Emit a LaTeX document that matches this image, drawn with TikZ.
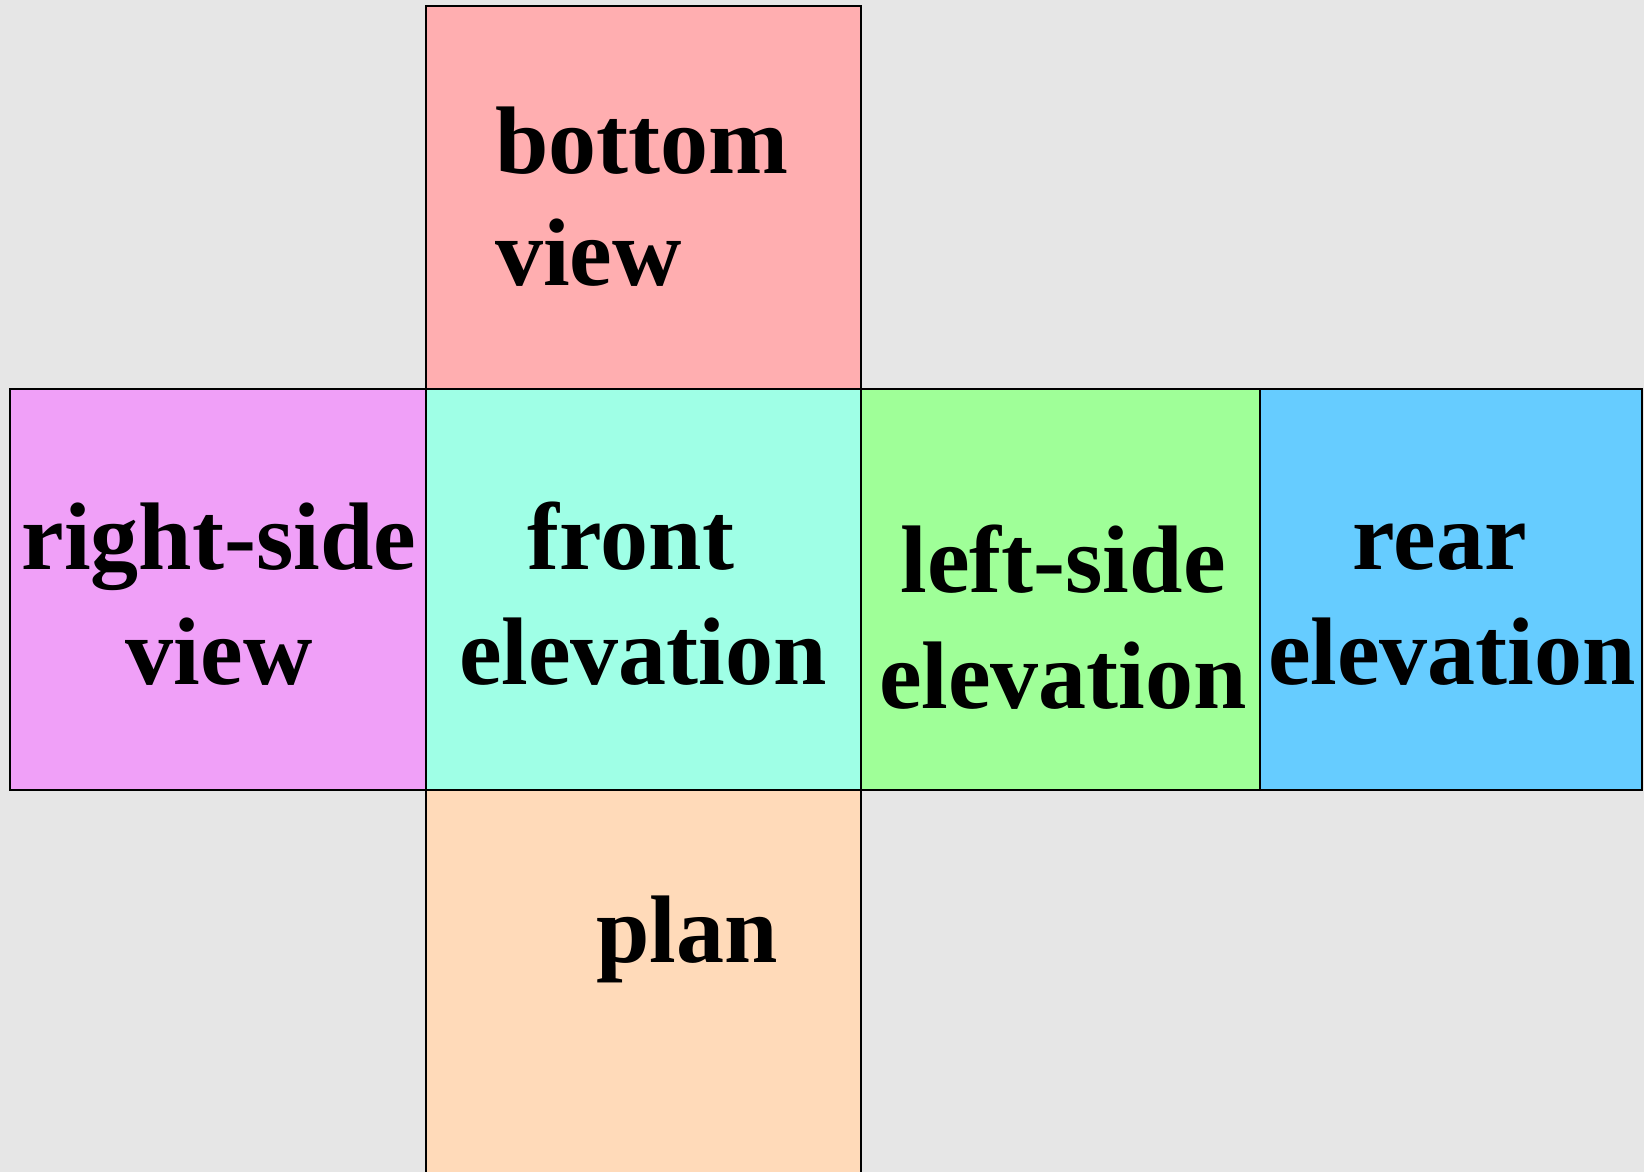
\documentclass[tikz,border=0pt]{standalone}
\usepackage{fontspec}
\setmainfont{Liberation Serif}
\definecolor{bgc}{HTML}{E6E6E6}
\definecolor{cbottom}{HTML}{FFAEB0}
\definecolor{cfront}{HTML}{9FFFE6}
\definecolor{cleft}{HTML}{9FFF98}
\definecolor{crear}{HTML}{66CCFF}
\definecolor{cright}{HTML}{F0A0F8}
\definecolor{cplan}{HTML}{FFDAB9}
\begin{document}
\begin{tikzpicture}[x=1pt,y=-1pt,
  face/.style={draw=black,line width=1.4pt},
  lbl/.style={anchor=base,inner sep=0pt,font=\fontsize{96}{110}\selectfont\bfseries}]
\fill[bgc] (0,0) rectangle (1644,1172);
\useasboundingbox (0,0) rectangle (1644,1172);
\filldraw[face,fill=cbottom] (426,6) rectangle (861,389);
\filldraw[face,fill=cright] (10,389) rectangle (426,790);
\filldraw[face,fill=cfront] (426,389) rectangle (861,790);
\filldraw[face,fill=cleft] (861,389) rectangle (1260,790);
\filldraw[face,fill=crear] (1260,389) rectangle (1642,790);
\filldraw[face,fill=cplan] (426,790) rectangle (861,1180);
\node[lbl,anchor=base west] (b1) at (495,173) {bottom};
\node[lbl,anchor=base west] (b2) at (495,285) {view};
\node[lbl] (r1) at (219,569) {right-side};
\node[lbl] (r2) at (219,684) {view};
\node[lbl] (f1) at (631,569) {front};
\node[lbl] (f2) at (643,684) {elevation};
\node[lbl] (l1) at (1063,592) {left-side};
\node[lbl] (l2) at (1063,708) {elevation};
\node[lbl] (e1) at (1440,569) {rear};
\node[lbl] (e2) at (1452,684) {elevation};
\node[lbl] (p1) at (687,962) {plan};
\end{tikzpicture}
\end{document}
